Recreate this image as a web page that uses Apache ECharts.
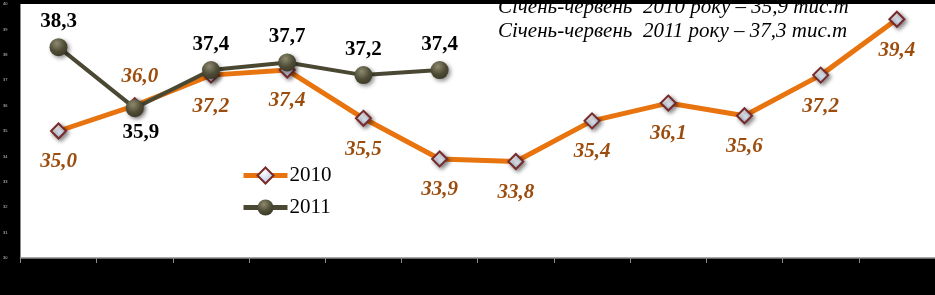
<!DOCTYPE html>
<html><head><meta charset="utf-8">
<script src="https://cdn.jsdelivr.net/npm/echarts@6/dist/echarts.min.js"></script>
<style>html,body{margin:0;padding:0;background:#000;overflow:hidden}#c{width:935px;height:295px}</style>
</head><body><div id="c"></div>
<script>
const months = ['Січень','Лютий','Березень','Квітень','Травень','Червень','Липень','Серпень','Вересень','Жовтень','Листопад','Грудень'];
const values2010 = [35.0, 36.0, 37.2, 37.4, 35.5, 33.9, 33.8, 35.4, 36.1, 35.6, 37.2, 39.4];
const values2011 = [38.3, 35.9, 37.4, 37.7, 37.2, 37.4, null, null, null, null, null, null];
const seriesNames = ['2010', '2011'];
const noteLines = ['Січень-червень  2010 року – 35,9 тис.т', 'Січень-червень  2011 року – 37,3 тис.т'];
const yMin = 30, yMax = 40, yStep = 1;

const fmt = v => v.toFixed(1).replace('.', ',');
const serif = '"Liberation Serif", "Times New Roman", serif';

const data2010 = values2010.map((v, i) => {
  const d = { value: v };
  if (i === 1) d.label = { position: 'top', distance: 10, offset: [5, 0] };
  return d;
});
const data2011 = values2011.map((v, i) => {
  const d = { value: v };
  if (i === 1) d.label = { position: 'bottom', distance: 5, offset: [6, 0] };
  return d;
});

const chart = echarts.init(document.getElementById('c'), null, { renderer: 'canvas' });
chart.setOption({
  backgroundColor: '#000',
  animation: false,
  grid: { left: 19, top: 4, width: 924, bottom: 37, show: true, backgroundColor: '#fff', borderWidth: 0 },
  xAxis: {
    type: 'category', data: months, boundaryGap: true,
    axisLine: { lineStyle: { color: '#8c8c8c', width: 1.5 } },
    axisTick: { show: true, length: 5, lineStyle: { color: '#8c8c8c' } },
    axisLabel: { show: false }, splitLine: { show: false }
  },
  yAxis: {
    type: 'value', min: yMin, max: yMax, interval: yStep,
    axisLine: { show: false }, axisTick: { show: false }, splitLine: { show: false },
    axisLabel: { show: true, color: '#cfcfcf', fontSize: 4, margin: 13, formatter: v => String(v) }
  },
  legend: {
    orient: 'vertical', left: 236, top: 160, itemWidth: 44, itemHeight: 20, itemGap: 11,
    data: seriesNames,
    lineStyle: { width: 5 },
    textStyle: { fontFamily: serif, fontSize: 21, color: '#000', padding: [0, 0, 0, -3] }
  },
  graphic: noteLines.map((t, i) => ({
    type: 'text', x: 498, y: 7 + i * 24, z: 10,
    style: { text: t, font: 'italic 21px ' + serif, fill: '#000', verticalAlign: 'middle' }
  })),
  series: [
    {
      name: seriesNames[0], type: 'line', data: data2010, z: 2,
      symbol: 'diamond', symbolSize: 15,
      lineStyle: { color: '#e8740f', width: 5 },
      itemStyle: {
        color: { type: 'radial', x: 0.4, y: 0.35, r: 0.7, colorStops: [{ offset: 0, color: '#ffffff' }, { offset: 1, color: '#a8bfdc' }] },
        borderColor: '#7a2a2a', borderWidth: 2,
        shadowBlur: 4, shadowColor: 'rgba(0,0,0,0.45)', shadowOffsetX: 2, shadowOffsetY: 2
      },
      label: {
        show: true, position: 'bottom', distance: 12, formatter: p => fmt(p.value),
        color: '#9c4c0c', fontFamily: serif, fontSize: 21, fontWeight: 'bold', fontStyle: 'italic'
      }
    },
    {
      name: seriesNames[1], type: 'line', data: data2011, z: 3,
      symbol: 'circle', symbolSize: 18,
      lineStyle: { color: '#4a4832', width: 4 },
      itemStyle: {
        color: { type: 'radial', x: 0.4, y: 0.3, r: 0.75, colorStops: [{ offset: 0, color: '#8d8a70' }, { offset: 0.6, color: '#4e4b35' }, { offset: 1, color: '#3a3826' }] },
        borderWidth: 0,
        shadowBlur: 4, shadowColor: 'rgba(0,0,0,0.45)', shadowOffsetX: 2, shadowOffsetY: 2
      },
      label: {
        show: true, position: 'top', distance: 6, formatter: p => fmt(p.value),
        color: '#000', fontFamily: serif, fontSize: 21, fontWeight: 'bold'
      }
    }
  ]
});
</script></body></html>
